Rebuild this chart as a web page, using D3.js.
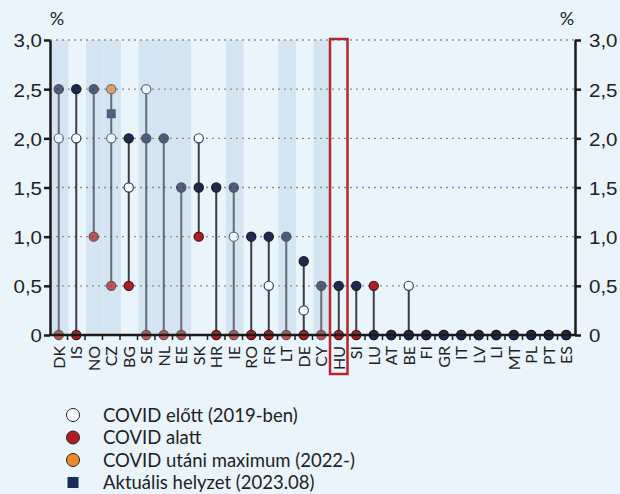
<!DOCTYPE html>
<html>
<head>
<meta charset="utf-8">
<script src="https://cdn.jsdelivr.net/npm/d3@7"></script>
<style>
  html, body { margin: 0; padding: 0; background: #eaf4fb; }
  svg { display: block; font-family: Lato, "Open Sans", sans-serif; }
  .axis path, .axis line { stroke: #1a1a1a; }
  .axis text { fill: #222; }
</style>
</head>
<body>
<div id="graphic"></div>
<script>
// countries in chart order
var countries = ['DK','IS','NO','CZ','BG','SE','NL','EE','SK','HR','IE','RO','FR','LT','DE','CY','HU','SI','LU','AT','BE','FI','GR','IT','LV','LI','MT','PL','PT','ES'];
// shaded (lighter) columns
var shaded = ['DK','NO','CZ','SE','NL','EE','IE','LT','CY'];
// COVID előtt (2019-ben)
var preCovid = [2.0, 2.0, null, 2.0, 1.5, 2.5, null, null, 2.0, null, 1.0, null, 0.5, null, 0.25, null, null, null, null, null, 0.5, null, null, null, null, null, null, null, null, null];
// COVID alatt
var duringCovid = [0, 0, 1.0, 0.5, 0.5, 0, 0, 0, 1.0, 0, 0, 0, 0, 0, 0, 0, 0, 0, 0.5, 0, 0, 0, 0, 0, 0, 0, 0, 0, 0, 0];
// COVID utáni maximum (2022-)
var postMax = [null, null, null, 2.5, null, null, null, null, null, null, null, null, null, null, null, null, null, null, null, null, null, null, null, null, null, null, null, null, null, null];
// Aktuális helyzet (2023.08)
var current = [2.5, 2.5, 2.5, 2.25, 2.0, 2.0, 2.0, 1.5, 1.5, 1.5, 1.5, 1.0, 1.0, 1.0, 0.75, 0.5, 0.5, 0.5, 0, 0, 0, 0, 0, 0, 0, 0, 0, 0, 0, 0];
var highlight = 'HU';
var yTicks = [0, 0.5, 1.0, 1.5, 2.0, 2.5, 3.0];

var legendItems = [
  {label: 'COVID előtt (2019-ben)', fill: '#ffffff', shape: 'circle'},
  {label: 'COVID alatt', fill: '#b01e24', shape: 'circle'},
  {label: 'COVID utáni maximum (2022-)', fill: '#f08a24', shape: 'circle'},
  {label: 'Aktuális helyzet (2023.08)', fill: '#1a2c5a', shape: 'square'}
];

var colours = {pre: '#ffffff', during: '#b01e24', post: '#e8893a', current: '#1b2a55'};

function drawGraphic() {
  var width = 620, height = 494;
  var margin = {left: 50, right: 45, top: 40, bottom: 159};
  var chart_width = width - margin.left - margin.right;
  var chart_height = height - margin.top - margin.bottom;

  var svg = d3.select('#graphic').append('svg')
    .attr('width', width).attr('height', height);

  svg.append('rect').attr('width', width).attr('height', height).attr('fill', '#eaf4fb');

  var x = d3.scaleBand().domain(countries).range([margin.left, margin.left + chart_width]);
  var y = d3.scaleLinear().domain([0, 3]).range([margin.top + chart_height, margin.top]);

  var data = countries.map(function (c, i) {
    return {name: c, pre: preCovid[i], during: duringCovid[i], post: postMax[i], current: current[i], shaded: shaded.indexOf(c) > -1};
  });

  // shaded column bands
  svg.append('g').selectAll('rect')
    .data(data.filter(function (d) { return d.shaded; }))
    .join('rect')
    .attr('x', function (d) { return x(d.name) + 1; })
    .attr('y', y(3))
    .attr('width', x.bandwidth())
    .attr('height', y(0) - y(3))
    .attr('fill', '#d5e4f1');

  // dotted gridlines
  svg.append('g').selectAll('line')
    .data(yTicks.filter(function (d) { return d > 0; }))
    .join('line')
    .attr('x1', margin.left).attr('x2', margin.left + chart_width)
    .attr('y1', function (d) { return y(d); }).attr('y2', function (d) { return y(d); })
    .attr('stroke', '#8a8f98').attr('stroke-width', 1.3)
    .attr('stroke-dasharray', '2,4');

  var cols = svg.append('g').selectAll('g')
    .data(data)
    .join('g')
    .attr('opacity', function (d) { return d.shaded ? 0.72 : 1; });

  // stems
  cols.append('line')
    .attr('x1', function (d) { return x(d.name) + x.bandwidth() / 2; })
    .attr('x2', function (d) { return x(d.name) + x.bandwidth() / 2; })
    .attr('y1', function (d) { return y(d3.min([d.pre, d.during, d.post, d.current].filter(function (v) { return v != null; }))); })
    .attr('y2', function (d) { return y(d3.max([d.pre, d.during, d.post, d.current].filter(function (v) { return v != null; }))); })
    .attr('stroke', '#3a3e47').attr('stroke-width', 2);

  function dot(key, fill, stroke) {
    cols.filter(function (d) { return d[key] != null; })
      .append('circle')
      .attr('cx', function (d) { return x(d.name) + x.bandwidth() / 2; })
      .attr('cy', function (d) { return y(d[key]); })
      .attr('r', 4.6)
      .attr('fill', fill)
      .attr('stroke', stroke)
      .attr('stroke-width', 1.2);
  }
  dot('during', colours.during, '#3a1a1a');
  dot('pre', colours.pre, '#2a3f7a');
  dot('post', colours.post, '#3a3e47');

  // current: circle normally, square where a post-COVID max is shown separately
  cols.filter(function (d) { return d.post == null; })
    .append('circle')
    .attr('cx', function (d) { return x(d.name) + x.bandwidth() / 2; })
    .attr('cy', function (d) { return y(d.current); })
    .attr('r', 4.6)
    .attr('fill', colours.current)
    .attr('stroke', '#1a1a1a')
    .attr('stroke-width', 1.2);
  cols.filter(function (d) { return d.post != null; })
    .append('rect')
    .attr('x', function (d) { return x(d.name) + x.bandwidth() / 2 - 4.5; })
    .attr('y', function (d) { return y(d.current) - 4.5; })
    .attr('width', 9).attr('height', 9)
    .attr('fill', colours.current);

  // axes
  var fmt = function (d) { return d === 0 ? '0' : d3.format('.1f')(d).replace('.', ','); };
  var sx = 1.08;

  var yAxisL = svg.append('g').attr('class', 'axis')
    .attr('transform', 'translate(' + margin.left + ',0)')
    .call(d3.axisLeft(y).tickValues(yTicks).tickFormat(fmt).tickSize(6).tickSizeOuter(0).tickPadding(3));
  yAxisL.select('.domain').attr('stroke-width', 2.5);
  yAxisL.selectAll('.tick line').attr('stroke-width', 2.5);
  yAxisL.selectAll('text').attr('font-size', 19).attr('dy', '0.36em')
    .attr('transform', 'scale(' + sx + ',1)').attr('x', -8 / sx);

  var yAxisR = svg.append('g').attr('class', 'axis')
    .attr('transform', 'translate(' + (margin.left + chart_width) + ',0)')
    .call(d3.axisRight(y).tickValues(yTicks).tickFormat(fmt).tickSize(6).tickSizeOuter(0).tickPadding(3));
  yAxisR.select('.domain').attr('stroke-width', 2.5);
  yAxisR.selectAll('.tick line').attr('stroke-width', 2.5);
  yAxisR.selectAll('text').attr('font-size', 19).attr('dy', '0.36em')
    .attr('transform', 'scale(' + sx + ',1)').attr('x', 14 / sx);

  // bottom axis line with boundary ticks
  var xAxis = svg.append('g').attr('class', 'axis');
  xAxis.append('line')
    .attr('x1', margin.left).attr('x2', margin.left + chart_width)
    .attr('y1', y(0)).attr('y2', y(0))
    .attr('stroke', '#1a1a1a').attr('stroke-width', 2.5);
  xAxis.selectAll('line.tk')
    .data(countries.slice(1))
    .join('line')
    .attr('class', 'tk')
    .attr('x1', function (d) { return x(d); }).attr('x2', function (d) { return x(d); })
    .attr('y1', y(0)).attr('y2', y(0) + 5)
    .attr('stroke', '#1a1a1a').attr('stroke-width', 1.5);
  xAxis.selectAll('text')
    .data(countries)
    .join('text')
    .attr('transform', function (d) { return 'translate(' + (x(d) + x.bandwidth() / 2) + ',' + (y(0) + 11) + ') rotate(-90)'; })
    .attr('dy', '0.36em')
    .attr('text-anchor', 'end')
    .attr('font-size', 16)
    .attr('fill', '#222')
    .text(function (d) { return d; });

  // % labels
  svg.append('text').attr('x', 57).attr('y', 25).attr('text-anchor', 'middle')
    .attr('font-size', 18).attr('fill', '#222').text('%');
  svg.append('text').attr('x', 567).attr('y', 25).attr('text-anchor', 'middle')
    .attr('font-size', 18).attr('fill', '#222').text('%');

  // highlight box
  svg.append('rect')
    .attr('x', x(highlight))
    .attr('y', y(3) - 1)
    .attr('width', x.bandwidth())
    .attr('height', 375 - y(3))
    .attr('fill', 'none')
    .attr('stroke', '#b8262c')
    .attr('stroke-width', 2.5);

  // legend
  var legend = svg.append('g').selectAll('g')
    .data(legendItems)
    .join('g')
    .attr('transform', function (d, i) { return 'translate(73,' + (415 + i * 22.5) + ')'; });
  legend.filter(function (d) { return d.shape === 'circle'; })
    .append('circle').attr('r', 6.5)
    .attr('fill', function (d) { return d.fill; })
    .attr('stroke', '#222').attr('stroke-width', 1);
  legend.filter(function (d) { return d.shape === 'square'; })
    .append('rect').attr('x', -5.5).attr('y', -5.5).attr('width', 11).attr('height', 11)
    .attr('fill', function (d) { return d.fill; });
  legend.append('text')
    .attr('x', 30).attr('dy', '0.36em')
    .attr('font-size', 18.5).attr('fill', '#222')
    .text(function (d) { return d.label; });
}

drawGraphic();
</script>
</body>
</html>
